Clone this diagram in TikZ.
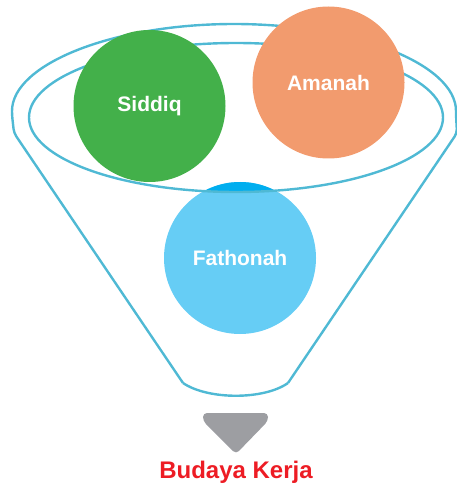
\documentclass[tikz,border=0pt]{standalone}
\usepackage{fontspec}
\setsansfont{Liberation Sans}
\usepackage{tikz}
\definecolor{rimblue}{HTML}{4FB9D4}
\definecolor{leafgreen}{HTML}{43B04A}
\definecolor{peach}{HTML}{F29B6E}
\definecolor{skyblue}{HTML}{66CDF5}
\definecolor{capblue}{HTML}{00AEEF}
\definecolor{spoutgray}{HTML}{9D9EA2}
\definecolor{kerjared}{HTML}{ED1C24}

\begin{document}
\begin{tikzpicture}[x=1pt,y=-1pt,
  disc/.style={circle,minimum size=152pt,inner sep=0pt,text=white,font=\sffamily\bfseries\fontsize{21}{24}\selectfont},
  rim/.style={draw=rimblue,line width=2.4pt}]
\useasboundingbox (0,0) rectangle (456,486);
% lower circle, darker where it sits inside the funnel mouth
\node[disc,fill=skyblue] (f) at (240,258) {Fathonah};
\begin{scope}
\clip (236,117.5) ellipse [x radius=207,y radius=74.5];
\fill[capblue] (f.center) circle [radius=76];
\end{scope}
% funnel
\draw[rim,rounded corners=4pt] (183,383) -- (14,133) -- (12,115)
  arc [start angle=180,end angle=360,x radius=222,y radius=91]
  -- (457,133) -- (288,383);
\draw[rim] (288,383) .. controls (264,400) and (208,400) .. (183,383);
\draw[rim] (236,117.5) ellipse [x radius=207,y radius=74.5];
% upper circles
\node[disc,fill=leafgreen] (s) at (149.5,106) {Siddiq};
\node[disc,fill=peach] (a) at (328.5,82.5) {Amanah};
% spout and result
\fill[spoutgray,rounded corners=4pt] (203,413) -- (268,413) -- (268,421) -- (236,454) -- (203,421) -- cycle;
\node[anchor=base,text=kerjared,font=\sffamily\bfseries\fontsize{24}{28}\selectfont] (b) at (236,478) {Budaya Kerja};
\end{tikzpicture}
\end{document}
